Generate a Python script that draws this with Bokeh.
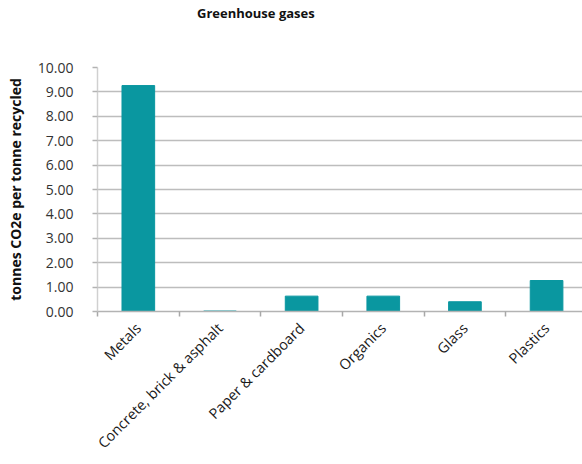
from bokeh.plotting import figure
from bokeh.layouts import column
from bokeh.models import FixedTicker, Range1d, ColumnDataSource, Div
from bokeh.embed import file_html
from bokeh.resources import INLINE

categories = ["Metals", "Concrete, brick & asphalt", "Paper & cardboard",
              "Organics", "Glass", "Plastics"]
co2e = [9.26, 0.02, 0.63, 0.63, 0.40, 1.27]
y_ticks = [0, 1, 2, 3, 4, 5, 6, 7, 8, 9, 10]
title_text = "Greenhouse gases"

FONT = "Open Sans"
BAR = "#0a97a0"
W = 582
HEAD_H = 57          # heading strip above the figure
FIG_H = 464 - HEAD_H
LEFT, BOTTOM, TOP = 97, 153, 10

centers = [i + 0.5 for i in range(len(categories))]
src = ColumnDataSource(dict(x=centers, top=co2e))

head = Div(
    text=f'<div style="font-family:\'{FONT}\';font-size:13px;font-weight:bold;'
         f'color:#111111;text-align:left;line-height:18px;padding-top:4px;'
         f'padding-left:197px;white-space:nowrap;">'
         f'{title_text}</div>',
    width=W, height=HEAD_H, margin=(0, 0, 0, 0))

p = figure(width=W, height=FIG_H, output_backend="svg", toolbar_location=None,
           x_range=Range1d(0, 5.94), y_range=Range1d(0, 10),
           min_border_left=LEFT, min_border_right=0, min_border_top=TOP,
           min_border_bottom=BOTTOM, margin=(0, 0, 0, 0))
p.outline_line_color = None
p.background_fill_color = "white"
p.border_fill_color = "white"

p.vbar(x="x", top="top", width=0.4, source=src, color=BAR)

# x axis: boundary ticks between categories, labels at band centres
p.xaxis.ticker = FixedTicker(ticks=centers, minor_ticks=list(range(len(categories) + 1)))
p.xaxis.major_label_overrides = {c: lab for c, lab in zip(centers, categories)}
p.xaxis.major_tick_line_color = None
p.xaxis.minor_tick_line_color = "#a8a8a8"
p.xaxis.minor_tick_line_width = 1.5
p.xaxis.minor_tick_out = 5
p.xaxis.minor_tick_in = 0
p.xaxis.axis_line_color = "#b3b3b3"
p.xaxis.axis_line_width = 1.5
p.xaxis.major_label_orientation = 0.785398
p.xaxis.major_label_text_font = FONT
p.xaxis.major_label_text_font_size = "14.5px"
p.xaxis.major_label_text_color = "#1a1a1a"
p.xaxis.major_label_standoff = 8

# y axis
p.yaxis.ticker = FixedTicker(ticks=y_ticks)
p.yaxis.major_label_overrides = {t: f"{t:.2f}" for t in y_ticks}
p.yaxis.axis_line_color = "#d0d0d0"
p.yaxis.axis_line_width = 1.5
p.yaxis.major_tick_line_color = "#b3b3b3"
p.yaxis.major_tick_line_width = 1.5
p.yaxis.major_tick_out = 5
p.yaxis.major_tick_in = 0
p.yaxis.minor_tick_line_color = None
p.yaxis.major_label_text_font = FONT
p.yaxis.major_label_text_font_size = "14px"
p.yaxis.major_label_text_color = "#333333"
p.yaxis.major_label_standoff = 19
p.yaxis.axis_label = "tonnes CO2e per tonne recycled"
p.yaxis.axis_label_text_font = FONT
p.yaxis.axis_label_text_font_size = "14px"
p.yaxis.axis_label_text_font_style = "bold"
p.yaxis.axis_label_text_color = "#111111"
p.yaxis.axis_label_standoff = 10

p.xgrid.grid_line_color = None
p.ygrid.grid_line_color = "#bdbdbd"
p.ygrid.grid_line_width = 1.5

layout = column(head, p, spacing=0, margin=(0, 0, 0, 0))

open("out.html", "w").write(file_html(layout, INLINE))
